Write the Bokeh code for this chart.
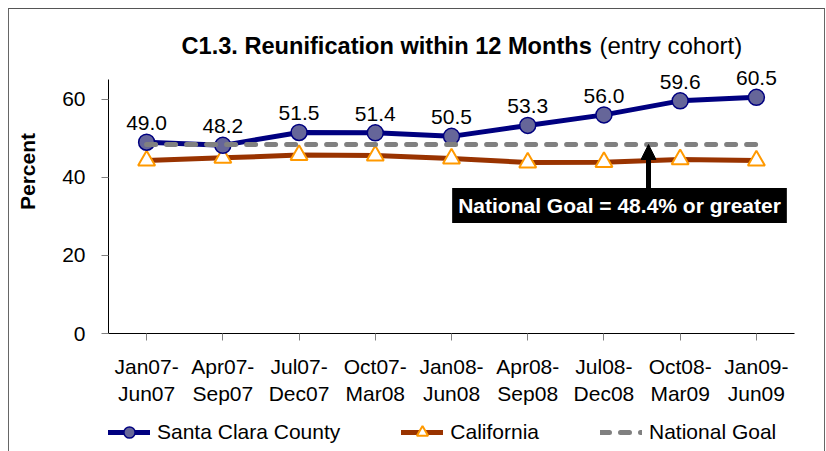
from bokeh.plotting import figure
from bokeh.layouts import column
from bokeh.models import FactorRange, Range1d, FixedTicker, Legend, LegendItem, Label, Arrow, NormalHead
from bokeh.core.properties import value
from bokeh.embed import file_html
from bokeh.resources import INLINE

periods = ["Jan07-\nJun07", "Apr07-\nSep07", "Jul07-\nDec07", "Oct07-\nMar08", "Jan08-\nJun08",
           "Apr08-\nSep08", "Jul08-\nDec08", "Oct08-\nMar09", "Jan09-\nJun09"]
santa_clara = [49.0, 48.2, 51.5, 51.4, 50.5, 53.3, 56.0, 59.6, 60.5]
california = [44.3, 45.0, 45.7, 45.6, 44.8, 43.8, 43.9, 44.6, 44.3]
national_goal = [48.4, 48.4, 48.4, 48.4, 48.4, 48.4, 48.4, 48.4, 48.4]
y_ticks = [0, 20, 40, 60]
y_axis_max = 65
sc_labels = [f"{v:.1f}" for v in santa_clara]

FONT = "Liberation Sans"
SC = dict(line_color="#000080", line_width=5, line_cap="round")
SC_M = dict(marker="circle", fill_color="#666699", line_color="#000080", line_width=1.5)
CA = dict(line_color="#993300", line_width=5, line_cap="round")
CA_M = dict(marker="triangle", fill_color="white", line_color="#FF9900", line_width=2)
NG = dict(line_color="#808080", line_width=5, line_dash="9 11", line_cap="round")

p = figure(x_range=FactorRange(factors=periods, range_padding=0), y_range=Range1d(0, 83),
           width=815, height=400, output_backend="svg", toolbar_location=None,
           min_border_left=99, min_border_right=30, min_border_top=0, min_border_bottom=76)
p.title.visible = False
p.outline_line_color = None
p.xgrid.visible = False
p.ygrid.visible = False

p.line(x=periods, y=california, **CA)
p.scatter(x=periods, y=california, size=17, **CA_M)
p.line(x=periods, y=santa_clara, **SC)
p.scatter(x=periods, y=santa_clara, size=16, **SC_M)
p.line(x=periods, y=national_goal, **NG)

p.text(x=periods, y=santa_clara, text=sc_labels, text_align="center", text_baseline="alphabetic",
       y_offset=-19, text_font=value(FONT), text_font_size="21px", text_color="black")

# axes
for ax in (p.xaxis, p.yaxis):
    ax.major_label_text_font = FONT
    ax.major_label_text_font_size = "21px"
    ax.major_label_text_color = "black"
    ax.axis_line_color = "black"
    ax.axis_line_width = 1
    ax.major_tick_in = 0
    ax.major_tick_out = 7
    ax.major_tick_line_color = "#808080"
    ax.minor_tick_line_color = None
p.xaxis.major_label_standoff = 14
p.yaxis.major_label_standoff = 16
p.yaxis.ticker = FixedTicker(ticks=y_ticks)
p.yaxis.bounds = (0, y_axis_max)
p.yaxis.axis_label = "Percent"
p.yaxis.axis_label_text_font = FONT
p.yaxis.axis_label_text_font_size = "21px"
p.yaxis.axis_label_text_font_style = "bold"
p.yaxis.axis_label_text_color = "black"
p.yaxis.axis_label_standoff = 20

# title (two styles)
p.add_layout(Label(x=73, y=288, x_units="screen", y_units="screen",
                   text="C1.3. Reunification within 12 Months", text_font=FONT,
                   text_font_size="23.6px", text_font_style="bold", text_baseline="alphabetic",
                   text_align="left", text_color="black"))
p.add_layout(Label(x=491, y=288, x_units="screen", y_units="screen",
                   text="(entry cohort)", text_font=FONT, text_font_size="24px",
                   text_baseline="alphabetic", text_align="left", text_color="black"))

# goal annotation
p.add_layout(Arrow(x_start=540, y_start=145, x_end=540, y_end=189, start_units="screen",
                   end_units="screen", line_width=5, line_color="black",
                   end=NormalHead(size=15, fill_color="black", line_color="black")))
p.add_layout(Label(x=511, y=128, x_units="screen", y_units="screen",
                   text="National Goal = 48.4% or greater", text_font=FONT,
                   text_font_size="21px", text_font_style="bold", text_color="white",
                   background_fill_color="black", text_align="center", text_baseline="middle",
                   padding=6))

# legend strip (own small figure below the chart; its series lie outside its view)
leg = figure(width=815, height=42, x_range=FactorRange(factors=periods),
             y_range=Range1d(1000, 1001), output_backend="svg", toolbar_location=None,
             x_axis_location=None, y_axis_location=None, min_border=0,
             min_border_left=0, min_border_right=0, min_border_top=0, min_border_bottom=0)
leg.title.visible = False
leg.outline_line_color = None
leg.grid.visible = False
l_sc = leg.line(x=periods, y=santa_clara, **SC)
m_sc = leg.scatter(x=periods, y=santa_clara, size=16, **SC_M)
l_ca = leg.line(x=periods, y=california, **CA)
m_ca = leg.scatter(x=periods, y=california, size=17, **CA_M)
l_ng = leg.line(x=periods, y=national_goal, **NG)
legend = Legend(items=[LegendItem(label="Santa Clara County", renderers=[l_sc, m_sc]),
                       LegendItem(label="California", renderers=[l_ca, m_ca]),
                       LegendItem(label="National Goal", renderers=[l_ng])],
                orientation="horizontal", location=(0, 5), padding=0, margin=0,
                spacing=61, glyph_width=42, glyph_height=28, label_height=28, label_standoff=7,
                label_text_font=FONT, label_text_font_size="21px", label_text_color="black",
                border_line_alpha=0, background_fill_alpha=0)
leg.add_layout(legend)

layout = column(p, leg, spacing=0,
                styles={"margin-left": "8px", "margin-top": "8px",
                        "border-top": "1px solid #555555", "border-left": "1px solid #666666",
                        "border-right": "1px solid #666666"})

open("out.html", "w").write(file_html(layout, INLINE))
